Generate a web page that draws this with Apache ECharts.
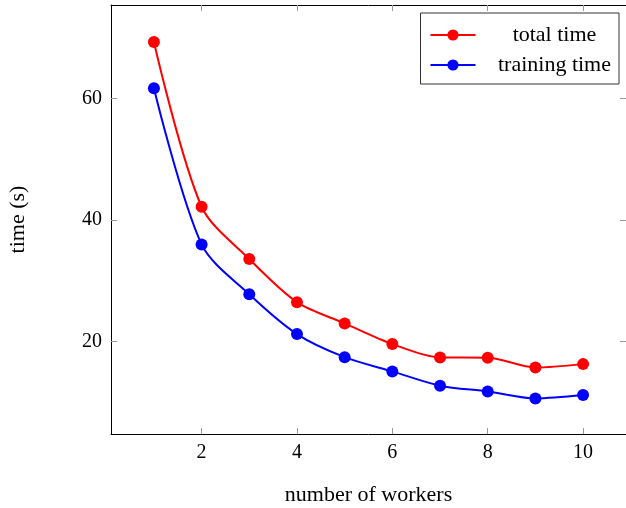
<!DOCTYPE html>
<html>
<head>
<meta charset="utf-8">
<script src="https://cdn.jsdelivr.net/npm/echarts@6/dist/echarts.min.js"></script>
<style>
  html, body { margin: 0; padding: 0; background: #fff; }
  #main { width: 626px; height: 508px; }
</style>
</head>
<body>
<div id="main"></div>
<script>
// number of workers
let workers = [1, 2, 3, 4, 5, 6, 7, 8, 9, 10];
// seconds
let totalTime = [69.3, 42.2, 33.6, 26.5, 23.0, 19.6, 17.4, 17.35, 15.75, 16.3];
let trainingTime = [61.7, 36.0, 27.8, 21.25, 17.45, 15.1, 12.75, 11.8, 10.65, 11.2];
let xTicks = [2, 4, 6, 8, 10];
let yTicks = [20, 40, 60];

let font = 'Liberation Serif';
let pairs = function(xs, ys){
    return xs.map(function(x, i){ return [x, ys[i]]; });
};

let tickStyle = { show: true, inside: true, length: 6, lineStyle: { color: '#999', width: 1 } };

let baseX = {
    type: 'value', min: 0.1, max: 10.9,
    splitLine: { show: false },
    axisLine: { show: true, lineStyle: { color: '#000', width: 1 } }
};
let baseY = {
    type: 'value', min: 4.8, max: 75.4,
    splitLine: { show: false },
    axisLine: { show: true, lineStyle: { color: '#000', width: 1 } }
};

let chart = echarts.init(document.getElementById('main'));
let option = {
    animation: false,
    backgroundColor: '#fff',
    grid: { left: 111, right: 0, top: 5, bottom: 74, containLabel: false, outerBoundsMode: 'none' },
    legend: {
        right: 7, top: 13,
        orient: 'vertical',
        itemWidth: 45, itemHeight: 14, itemGap: 8,
        padding: [11, 8, 8, 9],
        borderColor: '#333', borderWidth: 1,
        formatter: function(name){ return '{c|' + name + '}'; },
        textStyle: {
            fontFamily: font, fontSize: 22, color: '#000',
            rich: { c: { fontFamily: font, fontSize: 22, color: '#000', width: 148, align: 'center' } }
        },
        data: ['total time', 'training time']
    },
    xAxis: [
        Object.assign({}, baseX, {
            position: 'bottom',
            name: 'number of workers', nameLocation: 'middle', nameGap: 50,
            nameTextStyle: { fontFamily: font, fontSize: 22, color: '#000' },
            axisTick: Object.assign({ customValues: xTicks }, tickStyle),
            axisLabel: { customValues: xTicks, margin: 9, fontFamily: font, fontSize: 20, color: '#000' }
        }),
        Object.assign({}, baseX, {
            position: 'top',
            axisTick: Object.assign({ customValues: xTicks }, tickStyle),
            axisLabel: { show: false }
        })
    ],
    yAxis: [
        Object.assign({}, baseY, {
            position: 'left',
            name: 'time (s)', nameLocation: 'middle', nameGap: 82, nameRotate: 90,
            nameTextStyle: { fontFamily: font, fontSize: 22, color: '#000' },
            axisTick: Object.assign({ customValues: yTicks }, tickStyle),
            axisLabel: { customValues: yTicks, margin: 9, fontFamily: font, fontSize: 20, color: '#000' }
        }),
        Object.assign({}, baseY, {
            position: 'right',
            axisTick: Object.assign({ customValues: yTicks }, tickStyle),
            axisLabel: { show: false }
        })
    ],
    series: [
        {
            name: 'total time', type: 'line', smooth: 0.3,
            data: pairs(workers, totalTime),
            symbol: 'circle', symbolSize: 12,
            itemStyle: { color: '#ff0000' },
            lineStyle: { color: '#ff0000', width: 2 }
        },
        {
            name: 'training time', type: 'line', smooth: 0.3,
            data: pairs(workers, trainingTime),
            symbol: 'circle', symbolSize: 12,
            itemStyle: { color: '#0000ff' },
            lineStyle: { color: '#0000ff', width: 2 }
        }
    ]
};
chart.setOption(option);
</script>
</body>
</html>
